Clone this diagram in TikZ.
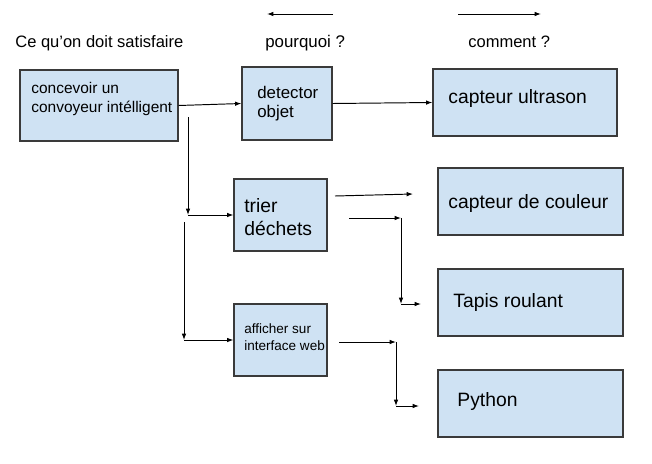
\documentclass[tikz,border=0pt]{standalone}
\usepackage{fontspec}
\setmainfont{Liberation Sans}
\usetikzlibrary{arrows.meta,fit}

\definecolor{fondbleu}{HTML}{CFE2F3}
\definecolor{bordgris}{HTML}{3A3A3A}

\tikzset{
  boite/.style={draw=bordgris, fill=fondbleu, line width=0.7pt, inner sep=0pt},
  texte/.style={anchor=base west, inner sep=0pt, align=left},
  fleche/.style={line width=0.55pt, -{Latex[length=3.6pt,width=2.6pt]}}
}

\begin{document}
\begin{tikzpicture}[x=0.02cm, y=-0.02cm]
% Set the picture size (652 x 463)
\useasboundingbox (0,0) rectangle (652,463);
\def\petit{\fontsize{8.8}{10.8}\selectfont}
\def\grand{\fontsize{11}{12.5}\selectfont}

% Column titles
\node[texte, font=\fontsize{9.4}{11}\selectfont] (titre1) at (15,47) {Ce qu’on doit satisfaire};
\node[texte, font=\fontsize{9.6}{11}\selectfont] (titre2) at (265,47) {pourquoi ?};
\node[texte, font=\fontsize{9.4}{11}\selectfont] (titre3) at (468,47) {comment ?};
\coordinate (h1) at (333,14);
\coordinate (h2) at (267,14);
\coordinate (h3) at (458,14);
\coordinate (h4) at (541,14);
\draw[fleche] (h1) -- (h2);
\draw[fleche] (h3) -- (h4);

% Draw the boxes
\node[boite, fit={(20,70) (178,141)}] (A) {};
\node[boite, fit={(242,67) (332,140)}] (B) {};
\node[boite, fit={(433,69) (617,136)}] (C) {};
\node[boite, fit={(234,179) (327,251)}] (D) {};
\node[boite, fit={(438,168) (623,235)}] (E) {};
\node[boite, fit={(438,269) (623,336)}] (F) {};
\node[boite, fit={(234,304) (327,376)}] (G) {};
\node[boite, fit={(438,370) (623,437)}] (H) {};

% Insert the texts (two lines: placed at the last baseline)
\node[texte, font=\petit] (tA) at (31,112) {concevoir un\\convoyeur intélligent};
\node[texte, font=\fontsize{9.6}{10.8}\selectfont] (tB) at (257,117) {detector\\objet};
\node[texte, font=\grand] (tC) at (448,103) {capteur ultrason};
\node[texte, font=\fontsize{11}{12.6}\selectfont] (tD) at (244,235) {trier\\déchets};
\node[texte, font=\grand] (tE) at (448,208) {capteur de couleur};
\node[texte, font=\grand] (tF) at (453,307) {Tapis roulant};
\node[texte, font=\fontsize{7.7}{9.6}\selectfont] (tG) at (244,350) {afficher sur\\interface web};
\node[texte, font=\grand] (tH) at (457,406) {Python};

% Connectors
\draw[fleche] (A.east) -- (B.west);
\draw[fleche] (B.east) -- (C.west);

\coordinate (v1a) at (188,117);
\coordinate (v1b) at (188,215);
\draw[fleche] (v1a) -- (v1b);
\draw[fleche] (v1b) -- (D.west);

\coordinate (v2a) at (184,222);
\coordinate (v2b) at (184,340);
\draw[fleche] (v2a) -- (v2b);
\draw[fleche] (v2b) -- (G.west);

\coordinate (d1) at (335,196);
\coordinate (d2) at (413,194);
\draw[fleche] (d1) -- (d2);

\coordinate (f1) at (349,218);
\coordinate (f2) at (401,218);
\coordinate (f3) at (401,304);
\coordinate (f4) at (421,304);
\draw[fleche] (f1) -- (f2);
\draw[fleche] (f2) -- (f3);
\draw[fleche] (f3) -- (f4);

\coordinate (g1) at (339,342);
\coordinate (g2) at (396,342);
\coordinate (g3) at (396,406);
\coordinate (g4) at (419,406);
\draw[fleche] (g1) -- (g2);
\draw[fleche] (g2) -- (g3);
\draw[fleche] (g3) -- (g4);
\end{tikzpicture}
\end{document}
